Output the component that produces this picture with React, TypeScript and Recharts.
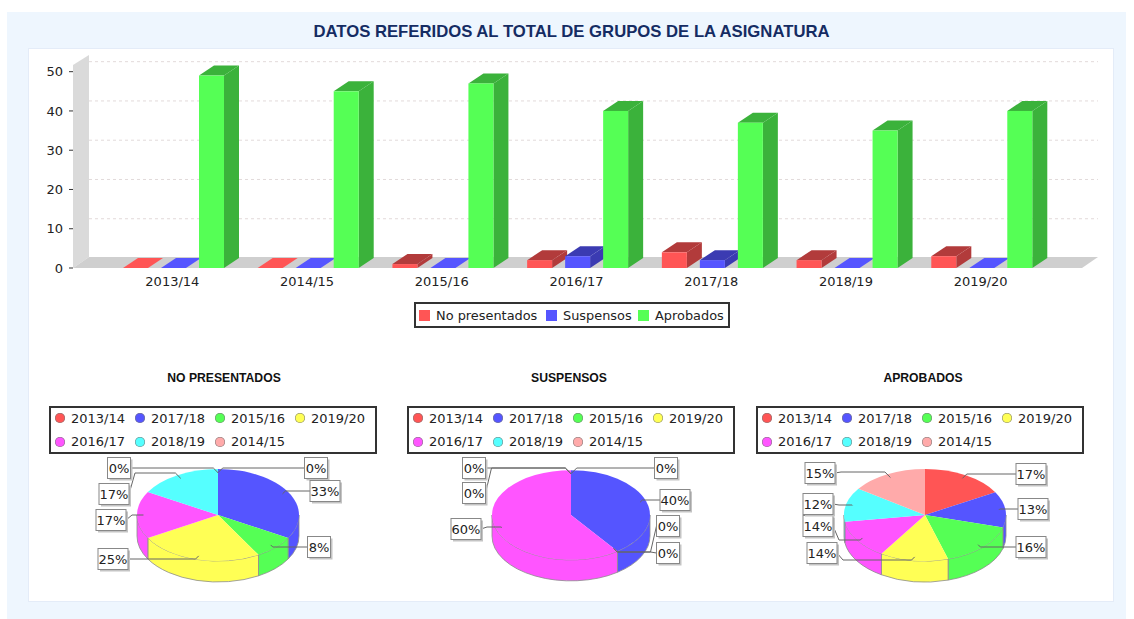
import * as React from 'react';
import {
  BarChart,
  Bar,
  XAxis,
  YAxis,
  CartesianGrid,
  Legend,
  PieChart,
  Pie,
  Cell
} from 'recharts';

const courses = ['2013/14', '2014/15', '2015/16', '2016/17', '2017/18', '2018/19', '2019/20'];
const noPresentados = [0, 0, 1, 2, 4, 2, 3];
const suspensos = [0, 0, 0, 3, 2, 0, 0];
const aprobados = [49, 45, 47, 40, 37, 35, 40];
const yTicks = [0, 10, 20, 30, 40, 50];

const pieCourses = ['2013/14', '2017/18', '2015/16', '2019/20', '2016/17', '2018/19', '2014/15'];
const pieNoPresentados = [0, 4, 1, 3, 2, 2, 0];
const pieSuspensos = [0, 2, 0, 0, 3, 0, 0];
const pieAprobados = [49, 37, 47, 40, 40, 35, 45];
const pieColors = ['#FF5555', '#5555FF', '#55FF55', '#FFFF55', '#FF55FF', '#55FFFF', '#FFAAAA'];

const DARK: { [key: string]: string } = {
  '#FF5555': '#B23B3B',
  '#5555FF': '#3B3BB2',
  '#55FF55': '#3BB23B'
};

const barData = courses.map((course, i) => ({
  course,
  noPresentados: noPresentados[i],
  suspensos: suspensos[i],
  aprobados: aprobados[i]
}));

// plot box of the bar chart and the 3d offset of the back wall
const PLOT = { left: 73, right: 1082, top: 65, bottom: 268 };
const DX = 15;
const DY = 11;
const LABEL_FONT = '"DejaVu Sans", sans-serif';
const TITLE_FONT = '"Liberation Sans", Arial, sans-serif';
const PIE_RATIO = 46 / 81;
const PIE_DEPTH = 21;

const Bar3D = (props: any) => {
  const { x, y, width, height, fill } = props;
  const dark = DARK[fill];
  const b = y + height;
  const top = `${x},${y} ${x + DX},${y - DY + 1} ${x + width + DX},${y - DY + 1} ${x + width},${y}`;
  if (height < 1) {
    return <polygon points={top} fill={fill} />;
  }
  return (
    <g>
      <polygon points={top} fill={dark} />
      <polygon
        points={`${x + width},${y} ${x + width + DX},${y - DY + 1} ${x + width + DX},${b - DY + 1} ${x + width},${b}`}
        fill={dark}
      />
      <rect x={x} y={y} width={width} height={height} fill={fill} />
    </g>
  );
};

const BarLegend = () => {
  const items = [
    { label: 'No presentados', color: pieColors[0], w: 127 },
    { label: 'Suspensos', color: pieColors[1], w: 92 },
    { label: 'Aprobados', color: pieColors[2], w: 88 }
  ];
  return (
    <div
      style={{
        boxSizing: 'border-box',
        width: 316,
        height: 26,
        border: '2px solid #333',
        background: '#fff',
        display: 'flex',
        alignItems: 'center',
        paddingLeft: 3,
        fontFamily: LABEL_FONT,
        fontSize: 12.9,
        color: '#222',
        whiteSpace: 'nowrap'
      }}
    >
      {items.map(item => (
        <div key={item.label} style={{ display: 'flex', alignItems: 'center', width: item.w, flexShrink: 0 }}>
          <span style={{ width: 11, height: 11, background: item.color, marginRight: 6, flexShrink: 0 }} />
          {item.label}
        </div>
      ))}
    </div>
  );
};

const TopChart = () => (
  <div style={{ position: 'absolute', left: 0, top: 0 }}>
    <BarChart
      width={1134}
      height={340}
      data={barData}
      barSize={25}
      barGap={13}
      margin={{ top: PLOT.top, right: 1134 - PLOT.right, bottom: 340 - PLOT.bottom - 30, left: 33 }}
    >
      <polygon
        points={`${PLOT.left},${PLOT.top} ${PLOT.left + DX + 1},${PLOT.top - 10} ${PLOT.left + DX + 1},${PLOT.bottom - DY} ${PLOT.left},${PLOT.bottom}`}
        fill="#DADADA"
      />
      <polygon
        points={`${PLOT.left},${PLOT.bottom} ${PLOT.left + DX + 1},${PLOT.bottom - DY} ${PLOT.right + DX + 1},${PLOT.bottom - DY} ${PLOT.right},${PLOT.bottom}`}
        fill="#CFCFCF"
      />
      <CartesianGrid
        vertical={false}
        horizontal={(p: any) =>
          p.y1 < PLOT.bottom - 1 && p.y1 > PLOT.top + 1 ? (
            <line
              key={p.y1}
              x1={PLOT.left + DX + 1}
              x2={PLOT.right + DX + 1}
              y1={p.y1 - DY + 1}
              y2={p.y1 - DY + 1}
              stroke="#E2DADA"
              strokeDasharray="3 3"
            />
          ) : (
            <g key={p.y1} />
          )
        }
      />
      <XAxis
        dataKey="course"
        height={30}
        axisLine={false}
        tickLine={false}
        interval={0}
        padding={{ left: 33, right: 33 }}
        tick={{ fontFamily: LABEL_FONT, fontSize: 13, fill: '#222', dx: -1, dy: 1 }}
      />
      <YAxis
        width={40}
        domain={[0, 51.7]}
        ticks={yTicks}
        axisLine={false}
        tickSize={4}
        tickMargin={6}
        tickLine={{ stroke: '#333' }}
        tick={{ fontFamily: LABEL_FONT, fontSize: 13, fill: '#222' }}
      />
      <Legend
        layout="horizontal"
        verticalAlign="middle"
        align="center"
        wrapperStyle={{ left: 414, top: 302, width: 316, height: 26 }}
        content={<BarLegend />}
      />
      <Bar dataKey="noPresentados" fill={pieColors[0]} shape={<Bar3D />} isAnimationActive={false} />
      <Bar dataKey="suspensos" fill={pieColors[1]} shape={<Bar3D />} isAnimationActive={false} />
      <Bar dataKey="aprobados" fill={pieColors[2]} shape={<Bar3D />} isAnimationActive={false} />
    </BarChart>
  </div>
);

const rad = (deg: number) => (deg * Math.PI) / 180;

// flattened slice with the visible part of its outer wall
const Slice3D = (props: any) => {
  const { cx, cy, outerRadius: a, startAngle, endAngle, fill } = props;
  const b = a * PIE_RATIO;
  const pt = (deg: number, drop = 0) =>
    `${cx + a * Math.cos(rad(deg))} ${cy - b * Math.sin(rad(deg)) + drop}`;
  if (Math.abs(startAngle - endAngle) < 0.01) return <g />;
  const from = Math.min(startAngle, 0);
  const to = Math.max(endAngle, -180);
  const large = startAngle - endAngle > 180 ? 1 : 0;
  return (
    <g>
      {from > to && (
        <path
          d={`M ${pt(from)} A ${a} ${b} 0 0 1 ${pt(to)} L ${pt(to, PIE_DEPTH)} A ${a} ${b} 0 0 0 ${pt(from, PIE_DEPTH)} Z`}
          fill={fill}
          stroke="#8c8c8c"
          strokeWidth={0.8}
        />
      )}
      <path
        d={`M ${cx} ${cy} L ${pt(startAngle)} A ${a} ${b} 0 ${large} 1 ${pt(endAngle)} Z`}
        fill={fill}
      />
    </g>
  );
};

// label box centre (x, y) and height of the horizontal leader run, all from the pie centre
type Slot = [number, number, number];

const noPresentadosSlots: Slot[] = [
  [98, -47, -47],
  [107, -24, -24],
  [101, 32, 32],
  [-105, 44, 44],
  [-107, 5, 0],
  [-104, -21, -42],
  [-99, -47, -47]
];
const suspensosSlots: Slot[] = [
  [95, -47, -47],
  [104, -15, -15],
  [97, 11, 37],
  [97, 38, 37],
  [-105, 14, 12],
  [-97, -22, -47],
  [-97, -47, -47]
];
const aprobadosSlots: Slot[] = [
  [106, -41, -41],
  [108, -6, -6],
  [106, 32, 32],
  [-103, 38, 45],
  [-107, 11, 25],
  [-107, -11, -10],
  [-105, -42, -43]
];

const makeLabel = (slots: Slot[]) => (props: any) => {
  const { cx, cy, outerRadius: a, midAngle, percent, index } = props;
  const [dx, dy, run] = slots[index];
  const text = `${Math.round(percent * 100)}%`;
  const w = text.length > 2 ? 30 : 23;
  const h = 21;
  const bx = cx + dx;
  const by = cy + dy;
  const side = dx > 0 ? 1 : -1;
  const ax = cx + a * 0.92 * Math.cos(rad(midAngle));
  const ay = cy - a * PIE_RATIO * 0.92 * Math.sin(rad(midAngle));
  const edge = bx - (side * w) / 2;
  const ry = cy + run;
  const kink = Math.min(10, Math.abs(ry - ay));
  const runEnd = ry === by ? edge : edge - side * 6;
  return (
    <g key={index}>
      <path
        d={`M ${ax} ${ay} L ${ax + side * kink} ${ry} L ${runEnd} ${ry} L ${edge} ${by}`}
        fill="none"
        stroke="#666"
        strokeWidth={1}
      />
      <rect x={bx - w / 2 + 2} y={by - h / 2 + 2} width={w} height={h} fill="#c4c4c4" />
      <rect x={bx - w / 2} y={by - h / 2} width={w} height={h} fill="#fff" stroke="#888" />
      <text
        x={bx}
        y={by + 4.5}
        textAnchor="middle"
        fontFamily={LABEL_FONT}
        fontSize={13}
        fill="#222"
      >
        {text}
      </text>
    </g>
  );
};

const PieLegend = (props: any) => (
  <div
    style={{
      boxSizing: 'border-box',
      width: 328,
      height: 48,
      border: '2px solid #333',
      background: '#fff',
      display: 'flex',
      flexWrap: 'wrap',
      alignContent: 'center',
      paddingLeft: 4,
      fontFamily: LABEL_FONT,
      fontSize: 13,
      color: '#222'
    }}
  >
    {(props.payload || []).map((entry: any) => (
      <div key={entry.value} style={{ display: 'flex', alignItems: 'center', width: 80, height: 23.5 }}>
        <span
          style={{
            width: 10,
            height: 10,
            borderRadius: '50%',
            background: entry.color,
            boxShadow: 'inset 0 0 0 0.5px #777',
            marginRight: 6
          }}
        />
        {entry.value}
      </div>
    ))}
  </div>
);

type PieProps = {
  title: string;
  values: number[];
  slots: Slot[];
  centerX: number;
  radius: number;
  titleX: number;
  legendX: number;
};

const Pie3D = ({ title, values, slots, centerX, radius, titleX, legendX }: PieProps) => {
  const left = centerX - 180;
  const data = pieCourses.map((course, i) => ({ course, value: values[i] }));
  return (
    <>
      <div
        style={{
          position: 'absolute',
          left: titleX - 100,
          top: 371,
          width: 200,
          textAlign: 'center',
          fontFamily: TITLE_FONT,
          fontWeight: 'bold',
          fontSize: 12.2,
          lineHeight: '14px',
          color: '#111'
        }}
      >
        {title}
      </div>
      <div style={{ position: 'absolute', left, top: 365 }}>
        <PieChart width={360} height={235} margin={{ top: 0, right: 0, bottom: 0, left: 0 }}>
          <Legend
            layout="horizontal"
            verticalAlign="middle"
            align="center"
            itemSorter={null}
            wrapperStyle={{ left: legendX - left, top: 41, width: 328, height: 48 }}
            content={<PieLegend />}
          />
          <Pie
            data={data}
            dataKey="value"
            nameKey="course"
            cx={180}
            cy={150}
            outerRadius={radius}
            startAngle={90}
            endAngle={-270}
            shape={<Slice3D />}
            label={makeLabel(slots)}
            labelLine={false}
            isAnimationActive={false}
          >
            {pieCourses.map((course, i) => (
              <Cell key={course} fill={pieColors[i]} />
            ))}
          </Pie>
        </PieChart>
      </div>
    </>
  );
};

export default function App() {
  return (
    <div style={{ position: 'relative', width: 1134, height: 619, background: '#fff', overflow: 'hidden' }}>
      <style>{'body { margin: 0; }'}</style>
      <div style={{ position: 'absolute', left: 7, top: 12, width: 1119, height: 607, background: '#EEF6FE' }} />
      <div
        style={{
          position: 'absolute',
          left: 28,
          top: 48,
          width: 1084,
          height: 552,
          background: '#fff',
          border: '1px solid #E4ECF8'
        }}
      />
      <div
        style={{
          position: 'absolute',
          left: 0,
          top: 23,
          width: 1143,
          textAlign: 'center',
          fontFamily: TITLE_FONT,
          fontWeight: 'bold',
          fontSize: 16.7,
          lineHeight: '18px',
          color: '#152C63'
        }}
      >
        DATOS REFERIDOS AL TOTAL DE GRUPOS DE LA ASIGNATURA
      </div>
      <TopChart />
      <Pie3D title="NO PRESENTADOS" values={pieNoPresentados} slots={noPresentadosSlots} centerX={218} radius={81} titleX={224} legendX={49} />
      <Pie3D title="SUSPENSOS" values={pieSuspensos} slots={suspensosSlots} centerX={571} radius={79} titleX={569} legendX={407} />
      <Pie3D title="APROBADOS" values={pieAprobados} slots={aprobadosSlots} centerX={925} radius={81} titleX={923} legendX={756} />
    </div>
  );
}
